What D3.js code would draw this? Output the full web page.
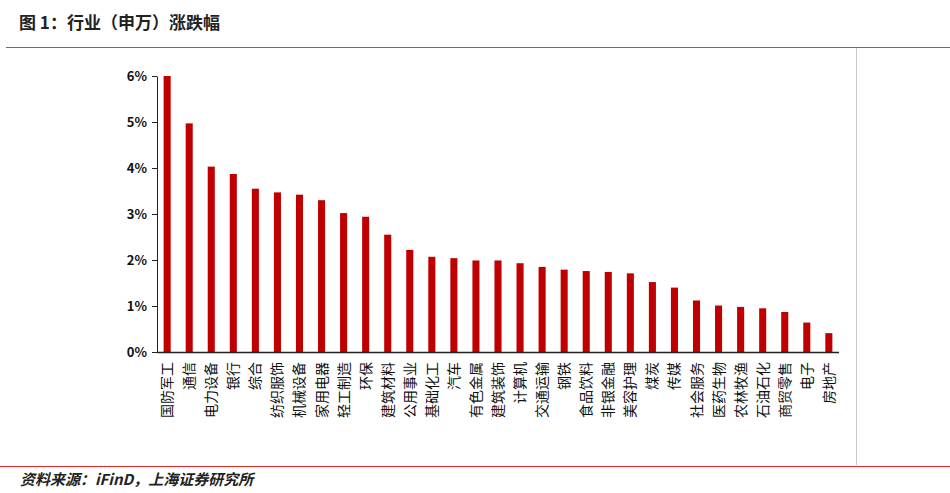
<!DOCTYPE html>
<html><head><meta charset="utf-8">
<script src="https://cdn.jsdelivr.net/npm/d3@7"></script>
<style>body{margin:0;background:#fff}text{font-family:"Noto Sans CJK SC",sans-serif}</style>
</head><body>
<svg id="c" width="950" height="493"></svg>
<script>
const categories = ['国防军工','通信','电力设备','银行','综合','纺织服饰','机械设备','家用电器','轻工制造','环保','建筑材料','公用事业','基础化工','汽车','有色金属','建筑装饰','计算机','交通运输','钢铁','食品饮料','非银金融','美容护理','煤炭','传媒','社会服务','医药生物','农林牧渔','石油石化','商贸零售','电子','房地产'];
const values = [6.0,4.97,4.03,3.87,3.55,3.47,3.42,3.30,3.02,2.94,2.55,2.22,2.07,2.04,1.99,1.99,1.93,1.85,1.79,1.76,1.74,1.71,1.52,1.40,1.12,1.01,0.98,0.95,0.87,0.64,0.41];
const yTicks = [0,1,2,3,4,5,6];

const svg = d3.select('#c');
// frame
svg.append('text').attr('x',19).attr('y',29).attr('font-size',17).attr('font-weight','bold').attr('fill','#222').text('图 1：行业（申万）涨跌幅');
svg.append('line').attr('x1',6).attr('x2',950).attr('y1',47.5).attr('y2',47.5).attr('stroke','#e83a3a').attr('stroke-width',1);
svg.append('line').attr('x1',856.5).attr('x2',856.5).attr('y1',48).attr('y2',465).attr('stroke','#c8c8c8');
svg.append('line').attr('x1',0).attr('x2',950).attr('y1',466.5).attr('y2',466.5).attr('stroke','#e8262b');
svg.append('text').attr('x',20).attr('y',485).attr('font-size',15).attr('font-style','italic').attr('font-weight','bold').attr('fill','#222').text('资料来源：iFinD，上海证券研究所');

const x = d3.scaleBand().domain(categories).range([157,839]).paddingInner(0.68).paddingOuter(0.3);
const y = d3.scaleLinear().domain([0,6]).range([352,76]);

svg.append('g').attr('transform','translate(157,0)')
  .call(d3.axisLeft(y).tickValues(yTicks).tickFormat(d=>d+'%').tickSize(5).tickSizeOuter(0))
  .call(g=>{g.select('.domain').attr('stroke','#222');g.selectAll('line').attr('stroke','#222');
    g.selectAll('text').attr('font-family','Liberation Sans,Arial').attr('font-weight','bold').attr('font-size',13).attr('fill','#111').attr('x',-10);});

svg.append('g').selectAll('rect').data(values).join('rect')
  .attr('x',(d,i)=>x(categories[i])).attr('width',x.bandwidth())
  .attr('y',d=>y(d)).attr('height',d=>y(0)-y(d)).attr('fill','#c00000');

svg.append('line').attr('x1',157).attr('x2',839).attr('y1',352.5).attr('y2',352.5).attr('stroke','#222').attr('stroke-width',1.5);

svg.append('g').selectAll('text').data(categories).join('text')
  .attr('transform',d=>`translate(${x(d)+x.bandwidth()/2+5},362) rotate(-90)`)
  .attr('text-anchor','end').attr('font-size',14).attr('fill','#111').text(d=>d);
</script>
</body></html>
